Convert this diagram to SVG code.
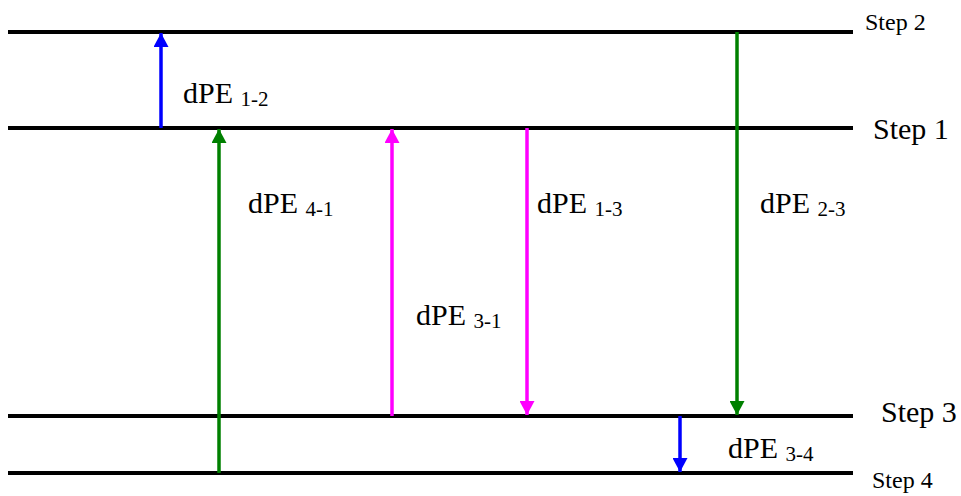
<svg xmlns="http://www.w3.org/2000/svg" width="961" height="496" viewBox="0 0 961 496">
<style>
.lvl{stroke:#000;stroke-width:4}
.t{font-family:"Liberation Serif","Times New Roman",serif;fill:#000}
.lab{font-size:30px}
.sub{font-size:21px}
.a{stroke-width:3.5;fill:none}
</style>
<defs>
<marker id="hb" viewBox="0 0 14 15" refX="14" refY="7.5" markerWidth="14" markerHeight="15" markerUnits="userSpaceOnUse" orient="auto"><path d="M0,0 L14,7.5 L0,15 Z" fill="#0000ff"/></marker>
<marker id="hg" viewBox="0 0 14 15" refX="14" refY="7.5" markerWidth="14" markerHeight="15" markerUnits="userSpaceOnUse" orient="auto"><path d="M0,0 L14,7.5 L0,15 Z" fill="#008000"/></marker>
<marker id="hm" viewBox="0 0 14 15" refX="14" refY="7.5" markerWidth="14" markerHeight="15" markerUnits="userSpaceOnUse" orient="auto"><path d="M0,0 L14,7.5 L0,15 Z" fill="#ff00ff"/></marker>
</defs>
<rect width="961" height="496" fill="#fff"/>
<g id="step2"><line class="lvl" x1="8" y1="32" x2="853" y2="32"/><text class="t" x="865" y="30" font-size="24">Step 2</text></g>
<g id="step1"><line class="lvl" x1="8" y1="128" x2="853" y2="128"/><text class="t" x="873" y="139" font-size="30">Step 1</text></g>
<g id="step3"><line class="lvl" x1="8" y1="416" x2="853" y2="416"/><text class="t" x="881" y="422" font-size="30">Step 3</text></g>
<g id="step4"><line class="lvl" x1="8" y1="473" x2="853" y2="473"/><text class="t" x="872" y="488" font-size="24">Step 4</text></g>
<g id="connectors">
<line class="a" stroke="#0000ff" x1="161" y1="128" x2="161" y2="33" marker-end="url(#hb)"/>
<line class="a" stroke="#008000" x1="219" y1="473" x2="219" y2="129" marker-end="url(#hg)"/>
<line class="a" stroke="#ff00ff" x1="392" y1="416" x2="392" y2="129" marker-end="url(#hm)"/>
<line class="a" stroke="#ff00ff" x1="527" y1="128" x2="527" y2="415" marker-end="url(#hm)"/>
<line class="a" stroke="#008000" x1="737" y1="32" x2="737" y2="415" marker-end="url(#hg)"/>
<line class="a" stroke="#0000ff" x1="680" y1="416" x2="680" y2="472" marker-end="url(#hb)"/>
</g>
<g id="labels">
<text class="t lab" x="183" y="103">dPE <tspan class="sub" dy="3">1-2</tspan></text>
<text class="t lab" x="248" y="213">dPE <tspan class="sub" dy="3">4-1</tspan></text>
<text class="t lab" x="537" y="213">dPE <tspan class="sub" dy="3">1-3</tspan></text>
<text class="t lab" x="760" y="213">dPE <tspan class="sub" dy="3">2-3</tspan></text>
<text class="t lab" x="416" y="325">dPE <tspan class="sub" dy="3">3-1</tspan></text>
<text class="t lab" x="728" y="458">dPE <tspan class="sub" dy="3">3-4</tspan></text>
</g>
</svg>
